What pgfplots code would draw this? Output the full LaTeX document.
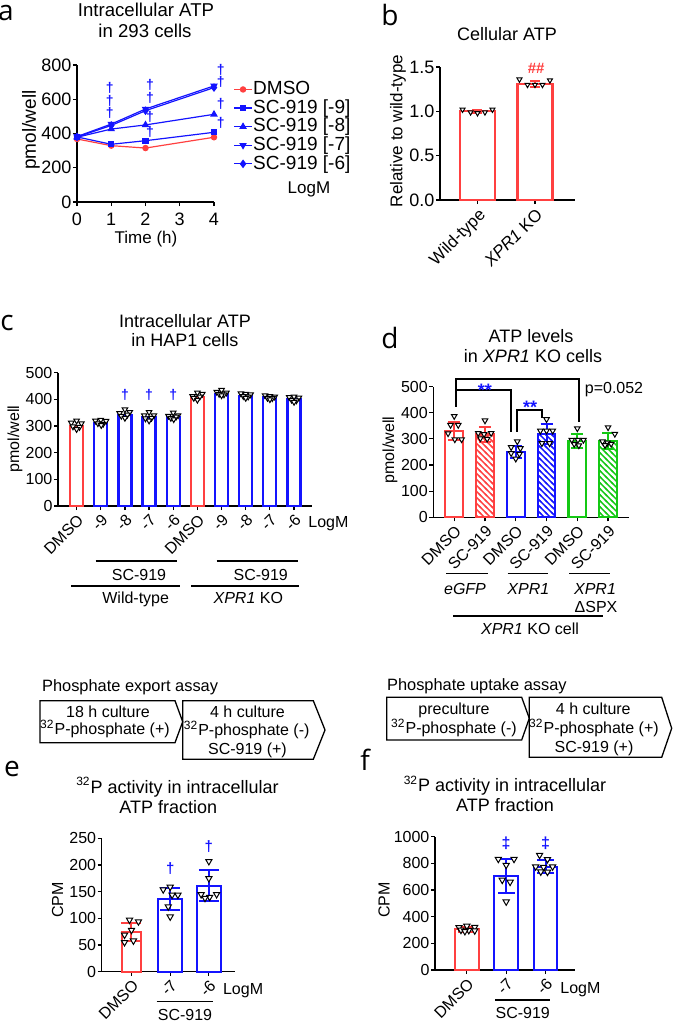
\documentclass[border=0pt]{standalone}
\usepackage{fontspec}
\setmainfont{Liberation Sans}
\newfontfamily\letterfont{Open Sans}
\usepackage{pgfplots}
\pgfplotsset{compat=1.18}
\usetikzlibrary{patterns}
\definecolor{gpred}{RGB}{255,64,64}
\definecolor{gpblue}{RGB}{20,20,255}
\definecolor{gpgreen}{RGB}{20,200,20}
\newcommand\fsz[1]{\fontsize{#1}{#1}\selectfont}
\newcommand\panel{\fontsize{14}{14}\selectfont\letterfont}
\pgfdeclarepatternformonly{hatch}{\pgfqpoint{-1pt}{-1pt}}{\pgfqpoint{4pt}{4pt}}{\pgfqpoint{3pt}{3pt}}{%
  \pgfsetlinewidth{0.7pt}%
  \pgfpathmoveto{\pgfqpoint{-0.5pt}{3.5pt}}%
  \pgfpathlineto{\pgfqpoint{3.5pt}{-0.5pt}}%
  \pgfusepath{stroke}}
\tikzset{dg/.style={text=gpblue, font=\fsz{7}\bfseries, inner sep=0pt}}
\pgfplotsset{
  gp/.style={scale only axis, anchor=south west,
    axis x line=bottom, axis y line=left,
    axis line style={-, line width=0.6pt, black},
    tick align=outside, major tick length=2pt,
    every tick/.style={black, line width=0.6pt},
    clip=false, scaled ticks=false,
    /pgf/number format/assume math mode=true,
    /pgf/number format/1000 sep={},
    tick label style={font=\fsz{8}},
    yticklabel style={inner sep=0.6pt}},
  pts/.style={only marks, mark=triangle*, mark size=#1, mark options={rotate=180, fill=white, draw=black, line width=0.5pt}},
  pts/.default=1.6pt,
  bars/.style={ybar, bar shift=0pt, bar width=#1, line width=1.1pt, fill=white},
  eb/.style 2 args={error bars/.cd, y dir=both, y explicit, error bar style={line width=1pt, color=#1}, error mark options={rotate=90, line width=1pt, color=#1, mark size=#2}},
}
\begin{document}
\begin{tikzpicture}
\useasboundingbox (0pt,0pt) rectangle (336.5pt,-511.5pt);

% ---------------- panel a
\begin{axis}[gp, at={(38.5pt,-101pt)}, width=68.5pt, height=68.5pt,
  xmin=0, xmax=4, ymin=0, ymax=800,
  xtick={0,1,2,3,4}, ytick={0,200,400,600,800},
  tick label style={font=\fsz{9}},
  legend style={at={(1.139,0.89)}, anchor=north west, draw=none, fill=none,
    font=\fsz{9.5}, inner sep=0pt, row sep=0.3pt,
    nodes={inner sep=0.3pt, text height=6.8pt, text depth=1.6pt}},
  legend cell align=left,
  legend image code/.code={\draw[mark repeat=2,mark phase=2] plot coordinates {(0pt,0pt) (4.5pt,0pt) (9pt,0pt)};},
]
\addplot[gpred, line width=0.6pt, mark=*, mark size=1.3pt] coordinates {(0,368)(1,329)(2,315)(4,378)};
\addlegendentry{DMSO}
\addplot[gpblue, line width=0.6pt, mark=square*, mark size=1.2pt] coordinates {(0,380)(1,337)(2,358)(4,407)};
\addlegendentry{SC-919 [-9]}
\addplot[gpblue, line width=0.6pt, mark=triangle*, mark size=1.6pt] coordinates {(0,378)(1,426)(2,450)(4,512)};
\addlegendentry{SC-919 [-8]}
\addplot[gpblue, line width=0.6pt, mark=triangle*, mark size=1.6pt, mark options={rotate=180}] coordinates {(0,382)(1,455)(2,543)(4,678)};
\addlegendentry{SC-919 [-7]}
\addplot[gpblue, line width=0.6pt, mark=diamond*, mark size=1.7pt] coordinates {(0,380)(1,447)(2,533)(4,668)};
\addlegendentry{SC-919 [-6]}
\node[dg] at (axis cs:0.96,666) {†};
\node[dg] at (axis cs:0.96,592) {†};
\node[dg] at (axis cs:0.96,521) {†};
\node[dg] at (axis cs:2.13,683) {†};
\node[dg] at (axis cs:2.13,609) {†};
\node[dg] at (axis cs:2.13,498) {†};
\node[dg] at (axis cs:2.13,411) {†};
\node[dg] at (axis cs:4.2,771) {†};
\node[dg] at (axis cs:4.2,702) {†};
\node[dg] at (axis cs:4.2,570) {†};
\node[dg] at (axis cs:4.2,463) {†};
\end{axis}

% ---------------- panel b
\begin{axis}[gp, at={(220pt,-100pt)}, width=67.5pt, height=66.5pt,
  xmin=-0.652, xmax=1.696, ymin=0, ymax=1.5,
  xtick={0,1}, xticklabels={Wild-type,{\itshape XPR1} KO},
  ytick={0,0.5,1,1.5},
  yticklabel style={/pgf/number format/fixed, /pgf/number format/fixed zerofill, /pgf/number format/precision=1, font=\fsz{9}},
  x tick label style={rotate=45, anchor=north east, inner sep=1pt, font=\fsz{8.5}},
]
\addplot[bars=17.5pt, draw=gpred, eb={gpred}{2.5pt}] coordinates {(0,1.0) +- (0,0.015) (1,1.31) +- (0,0.03)};
\addplot[pts=1.45pt] coordinates {(-0.26,1.02)(-0.12,0.99)(0,0.98)(0.13,0.99)(0.26,1.02)
  (0.73,1.36)(0.87,1.30)(1,1.30)(1.13,1.30)(1.26,1.35)};
\node[font=\fsz{7.5}\bfseries, text=gpred, anchor=base, inner sep=0pt] at (axis cs:1.02,1.43) {\#\#};
\end{axis}

% ---------------- panel c
\begin{axis}[gp, at={(29pt,-253pt)}, width=126.85pt, height=66.65pt,
  xmin=-0.77, xmax=9.73, ymin=0, ymax=500,
  xtick={0,...,9}, xticklabels={DMSO,-9,-8,-7,-6,DMSO,-9,-8,-7,-6},
  ytick={0,100,...,500},
  x tick label style={rotate=45, anchor=north east, inner sep=1pt},
]
\addplot[bars=6.5pt, draw=gpred] coordinates {(0,300)(5,410)};
\addplot[bars=6.5pt, draw=gpblue] coordinates {(1,312)(2,342)(3,332)(4,335)(6,420)(7,412.5)(8,407)(9,401)};
\addplot[pts] coordinates {
 (-0.22,312)(0,320)(0.2,310)(-0.15,298)(0.12,296)(0,288)
 (0.78,320)(1,323)(1.22,319)(0.88,310)(1.1,308)(1.02,303)
 (1.78,348)(2,362)(2.2,352)(1.85,338)(2.1,342)(2,330)
 (2.8,340)(3,352)(3.2,340)(2.85,328)(3.1,330)(3,320)
 (3.8,338)(4,350)(4.2,340)(3.9,330)(4.12,335)(4.02,325)
 (4.8,412)(5,425)(5.2,420)(4.85,405)(5.1,410)(5,398)
 (5.8,428)(6,435)(6.2,425)(5.9,420)(6.1,418)(6,415)
 (6.8,422)(7,420)(7.2,418)(6.9,412)(7.1,410)(7,405)
 (7.8,415)(8,412)(8.2,410)(7.9,405)(8.1,404)(8,400)
 (8.8,408)(9,410)(9.2,406)(8.9,398)(9.1,396)(9,390)};
\node[dg] at (axis cs:2,416) {†};
\node[dg] at (axis cs:3,416) {†};
\node[dg] at (axis cs:4,416) {†};
\end{axis}

% ---------------- panel d
\begin{axis}[gp, at={(216.65pt,-258.65pt)}, width=98pt, height=65.35pt,
  xmin=-0.68, xmax=5.69, ymin=0, ymax=500,
  xtick={0,...,5}, xticklabels={DMSO,SC-919,DMSO,SC-919,DMSO,SC-919},
  ytick={0,100,...,500},
  x tick label style={rotate=45, anchor=north east, inner sep=1pt},
]
\addplot[bars=8.85pt, draw=gpred, eb={gpred}{3pt}] coordinates {(0,330) +- (0,35)};
\addplot[bars=8.85pt, draw=gpred, pattern=hatch, pattern color=gpred, eb={gpred}{3pt}] coordinates {(1,317) +- (0,27)};
\addplot[bars=8.85pt, draw=gpblue, eb={gpblue}{3pt}] coordinates {(2,250) +- (0,24)};
\addplot[bars=8.85pt, draw=gpblue, pattern=hatch, pattern color=gpblue, eb={gpblue}{3pt}] coordinates {(3,319) +- (0,38)};
\addplot[bars=8.85pt, draw=gpgreen, eb={gpgreen}{3pt}] coordinates {(4,292) +- (0,25)};
\addplot[bars=8.85pt, draw=gpgreen, pattern=hatch, pattern color=gpgreen, eb={gpgreen}{3pt}] coordinates {(5,292) +- (0,29)};
\addplot[pts] coordinates {
 (0,387)(-0.12,353)(0.13,353)(-0.2,321)(0.02,298)(0.24,298)
 (1,370)(0.78,322)(0.97,318)(1.2,322)(0.85,302)(1.07,300)
 (2.05,290)(1.85,268)(2.15,264)(1.85,245)(2.12,242)(2.0,224)
 (3,375)(2.8,331)(3,331)(3.2,331)(2.85,283)(3.1,283)
 (4,340)(3.82,296)(4.02,296)(4.2,296)(3.9,280)(4.05,275)
 (5,344)(5.22,319)(4.82,290)(4.98,285)(5.1,281)(4.9,276)};
\draw[line width=1pt] (axis cs:0.05,423) -- (axis cs:0.05,529) -- (axis cs:4.05,529) -- (axis cs:4.05,366);
\draw[line width=1pt] (axis cs:0.05,487) -- (axis cs:1.83,487) -- (axis cs:1.83,327);
\draw[line width=1pt] (axis cs:2.03,327) -- (axis cs:2.03,410) -- (axis cs:2.85,410) -- (axis cs:2.85,379);
\node[font=\fsz{9}\bfseries, text=gpblue, anchor=base, inner sep=0pt] at (axis cs:1.0,464) {**};
\node[font=\fsz{9}\bfseries, text=gpblue, anchor=base, inner sep=0pt] at (axis cs:2.47,396) {**};
\end{axis}

% ---------------- panel e
\begin{axis}[gp, at={(50.85pt,-485.85pt)}, width=66.65pt, height=66.65pt,
  xmin=-0.77, xmax=2.675, ymin=0, ymax=250,
  xtick={0,1,2}, xticklabels={DMSO,-7,-6}, ytick={0,50,...,250},
  x tick label style={rotate=45, anchor=north east, inner sep=1pt},
]
\addplot[bars=9.3pt, draw=gpred, eb={gpred}{5pt}] coordinates {(0,74) +- (0,17)};
\addplot[bars=11.8pt, draw=gpblue, eb={gpblue}{5pt}] coordinates {(1,136) +- (0,21) (2,161) +- (0,29)};
\addplot[pts=1.8pt] coordinates {
 (-0.05,97)(0.18,94)(0,78)(-0.18,69)(-0.18,55)(0.05,58)
 (1.0,159)(0.82,154)(1.05,144)(1.2,144)(0.95,122)(1.0,103)
 (2.0,207)(2.0,175)(1.8,145)(2.2,145)(2.02,140)(1.9,138)};
\node[dg, font=\fsz{7.5}\bfseries] at (axis cs:1,194) {†};
\node[dg, font=\fsz{7.5}\bfseries] at (axis cs:2,234) {†};
\end{axis}

% ---------------- panel f
\begin{axis}[gp, at={(217.5pt,-485pt)}, width=70pt, height=66.65pt,
  xmin=-0.81, xmax=2.75, ymin=0, ymax=1000,
  xtick={0,1,2}, xticklabels={DMSO,-7,-6}, ytick={0,200,...,1000},
  x tick label style={rotate=45, anchor=north east, inner sep=1pt},
]
\addplot[bars=11.8pt, draw=gpred, eb={gpred}{4.3pt}] coordinates {(0,305) +- (0,20)};
\addplot[bars=11.8pt, draw=gpblue, eb={gpblue}{4.3pt}] coordinates {(1,705) +- (0,125) (2,775) +- (0,50)};
\addplot[pts=1.8pt] coordinates {
 (-0.2,320)(0,330)(0.2,322)(-0.15,300)(0.05,298)(0.2,295)(-0.05,290)
 (0.8,832)(1.2,832)(1.0,787)(0.9,675)(1.1,660)(1.0,512)
 (1.85,862)(2.05,830)(1.75,775)(1.95,772)(2.18,775)(1.88,737)(2.05,735)};
\node[dg, font=\fsz{8}\bfseries] at (axis cs:1,950) {‡};
\node[dg, font=\fsz{8}\bfseries] at (axis cs:2,950) {‡};
\end{axis}

% ---------------- annotations (pixel coordinates)
\begin{scope}[x=0.5pt, y=-0.5pt, every node/.style={inner sep=0pt}]
\node[font=\panel] at (6,13) {a};
\node[font=\panel] at (390,15) {b};
\node[font=\panel] at (7,323) {c};
\node[font=\panel] at (390,338) {d};
\node[font=\panel] at (12,769) {e};
\node[font=\panel] at (365,760) {f};
% a
\node[font=\fsz{9.3}, anchor=base] at (146,16) {Intracellular ATP};
\node[font=\fsz{9.3}, anchor=base] at (145,37) {in 293 cells};
\node[font=\fsz{9.5}, rotate=90] at (31,130) {pmol/well};
\node[font=\fsz{8.5}, anchor=base] at (146,243) {Time (h)};
\node[font=\fsz{8.5}, anchor=base] at (309,193) {LogM};
% b
\node[font=\fsz{9}, anchor=base] at (507,40) {Cellular ATP};
\node[font=\fsz{8.5}, rotate=90] at (398,131) {Relative to wild-type};
% c
\node[font=\fsz{9}, anchor=base] at (185,327) {Intracellular ATP};
\node[font=\fsz{9}, anchor=base] at (185,346) {in HAP1 cells};
\node[font=\fsz{8}, rotate=90] at (15,439) {pmol/well};
\node[font=\fsz{8}, anchor=base west] at (308,527) {LogM};
\draw[line width=0.6pt] (95.7,561) -- (176.7,561);
\node[font=\fsz{8}, anchor=base] at (139,580.7) {SC-919};
\draw[line width=0.6pt] (71,586) -- (180,586);
\node[font=\fsz{8}, anchor=base] at (135.7,603) {Wild-type};
\draw[line width=0.6pt] (216.7,561) -- (297.7,561);
\node[font=\fsz{8}, anchor=base] at (260.7,580.7) {SC-919};
\draw[line width=0.6pt] (191,586) -- (299.3,586);
\node[font=\fsz{8}, anchor=base] at (248.3,603) {\textit{XPR1} KO};
% d
\node[font=\fsz{9}, anchor=base] at (531,342) {ATP levels};
\node[font=\fsz{9}, anchor=base] at (533,362) {in \textit{XPR1} KO cells};
\node[font=\fsz{8}, rotate=90] at (390,450) {pmol/well};
\node[font=\fsz{8}, anchor=base] at (614,393) {p=0.052};
\draw[line width=0.6pt] (446,573.3) -- (487.7,573.3);
\node[font=\fsz{8}, anchor=base] at (465,594) {\textit{eGFP}};
\draw[line width=0.6pt] (507.7,573.3) -- (548.3,573.3);
\node[font=\fsz{8}, anchor=base] at (528.3,594) {\textit{XPR1}};
\draw[line width=0.6pt] (569.3,573.3) -- (610,573.3);
\node[font=\fsz{8}, anchor=base] at (595,594) {\textit{XPR1}};
\node[font=\fsz{8}, anchor=base] at (596,612.7) {ΔSPX};
\draw[line width=0.6pt] (453.3,616) -- (603.3,616);
\node[font=\fsz{8}, anchor=base] at (530,634) {\textit{XPR1} KO cell};
% e
\node[font=\fsz{8.2}, anchor=base west] at (41.7,691.7) {Phosphate export assay};
\draw[line width=0.65pt] (40,700.7) -- (175,700.7) -- (182.7,721.7) -- (175,742.7) -- (40,742.7) -- cycle;
\draw[line width=0.65pt] (182.7,700.7) -- (313.3,700.7) -- (325,730) -- (313.3,759.3) -- (182.7,759.3) -- cycle;
\node[font=\fsz{8}, anchor=base] at (108,717.3) {18 h culture};
\node[font=\fsz{8}, anchor=base] at (105,734) {\textsuperscript{32}P-phosphate (+)};
\node[font=\fsz{8}, anchor=base] at (247.5,717.3) {4 h culture};
\node[font=\fsz{8}, anchor=base] at (246.7,735) {\textsuperscript{32}P-phosphate (-)};
\node[font=\fsz{8}, anchor=base] at (247.5,754.3) {SC-919 (+)};
\node[font=\fsz{9}, anchor=base] at (177.5,793.3) {\textsuperscript{32}P activity in intracellular};
\node[font=\fsz{9}, anchor=base] at (168.3,813.3) {ATP fraction};
\node[font=\fsz{8}, rotate=90] at (57.5,900) {CPM};
\node[font=\fsz{8}, anchor=base west] at (222.7,994) {LogM};
\draw[line width=0.6pt] (156.7,1001.7) -- (213.3,1001.7);
\node[font=\fsz{8}, anchor=base] at (185,1020) {SC-919};
% f
\node[font=\fsz{8.2}, anchor=base west] at (386.7,690) {Phosphate uptake assay};
\draw[line width=0.65pt] (386.7,697.3) -- (521.7,697.3) -- (529.3,718.3) -- (521.7,740) -- (386.7,740) -- cycle;
\draw[line width=0.65pt] (529.3,697.3) -- (661.7,697.3) -- (671.7,728.3) -- (661.7,757.3) -- (529.3,757.3) -- cycle;
\node[font=\fsz{8}, anchor=base] at (454,714) {preculture};
\node[font=\fsz{8}, anchor=base] at (454,733.3) {\textsuperscript{32}P-phosphate (-)};
\node[font=\fsz{8}, anchor=base] at (593.3,714) {4 h culture};
\node[font=\fsz{8}, anchor=base] at (594,733.3) {\textsuperscript{32}P-phosphate (+)};
\node[font=\fsz{8}, anchor=base] at (594,752.7) {SC-919 (+)};
\node[font=\fsz{9}, anchor=base] at (505,791.7) {\textsuperscript{32}P activity in intracellular};
\node[font=\fsz{9}, anchor=base] at (505,811.7) {ATP fraction};
\node[font=\fsz{8}, rotate=90] at (384,900) {CPM};
\node[font=\fsz{8}, anchor=base west] at (560,993.3) {LogM};
\draw[line width=0.6pt] (495,1000) -- (550,1000);
\node[font=\fsz{8}, anchor=base] at (522.7,1018.3) {SC-919};
\end{scope}
\end{tikzpicture}
\end{document}
